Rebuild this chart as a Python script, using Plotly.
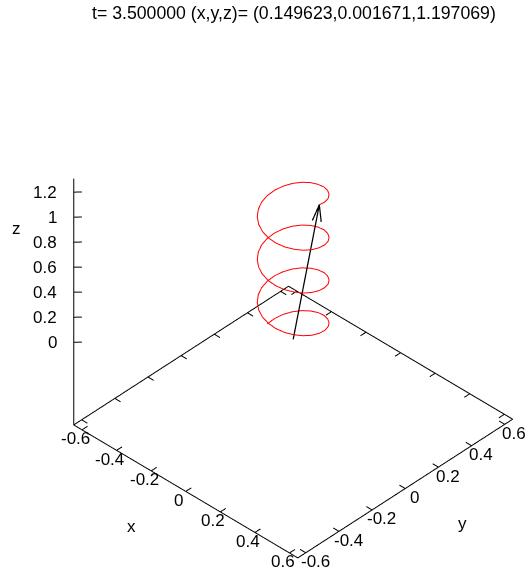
import plotly.graph_objects as go

# helix values, one point per 1/24 of a turn
helix_x = [
    -0.150, -0.145, -0.130, -0.106, -0.075, -0.039, 0.000, 0.039, 0.075, 0.106, 0.130, 0.145,
    0.150, 0.145, 0.130, 0.106, 0.075, 0.039, 0.000, -0.039, -0.075, -0.106, -0.130, -0.145,
    -0.150, -0.145, -0.130, -0.106, -0.075, -0.039, 0.000, 0.039, 0.075, 0.106, 0.130, 0.145,
    0.150, 0.145, 0.130, 0.106, 0.075, 0.039, 0.000, -0.039, -0.075, -0.106, -0.130, -0.145,
    -0.150, -0.145, -0.130, -0.106, -0.075, -0.039, 0.000, 0.039, 0.075, 0.106, 0.130, 0.145,
    0.150, 0.145, 0.130, 0.106, 0.075, 0.039, 0.000, -0.039, -0.075, -0.106, -0.130, -0.145,
    -0.150, -0.145, -0.130, -0.106, -0.075, -0.039, 0.000, 0.039, 0.075, 0.106, 0.130, 0.145,
    0.149623,
]
helix_y = [
    0.000, 0.039, 0.075, 0.106, 0.130, 0.145, 0.150, 0.145, 0.130, 0.106, 0.075, 0.039,
    0.000, -0.039, -0.075, -0.106, -0.130, -0.145, -0.150, -0.145, -0.130, -0.106, -0.075, -0.039,
    0.000, 0.039, 0.075, 0.106, 0.130, 0.145, 0.150, 0.145, 0.130, 0.106, 0.075, 0.039,
    0.000, -0.039, -0.075, -0.106, -0.130, -0.145, -0.150, -0.145, -0.130, -0.106, -0.075, -0.039,
    0.000, 0.039, 0.075, 0.106, 0.130, 0.145, 0.150, 0.145, 0.130, 0.106, 0.075, 0.039,
    0.000, -0.039, -0.075, -0.106, -0.130, -0.145, -0.150, -0.145, -0.130, -0.106, -0.075, -0.039,
    0.000, 0.039, 0.075, 0.106, 0.130, 0.145, 0.150, 0.145, 0.130, 0.106, 0.075, 0.039,
    0.001671,
]
helix_z = [
    0.000, 0.014, 0.029, 0.043, 0.057, 0.071, 0.086, 0.100, 0.114, 0.128, 0.143, 0.157,
    0.171, 0.185, 0.200, 0.214, 0.228, 0.242, 0.257, 0.271, 0.285, 0.299, 0.314, 0.328,
    0.342, 0.356, 0.370, 0.385, 0.399, 0.413, 0.427, 0.442, 0.456, 0.470, 0.484, 0.499,
    0.513, 0.527, 0.541, 0.556, 0.570, 0.584, 0.598, 0.613, 0.627, 0.641, 0.655, 0.670,
    0.684, 0.698, 0.712, 0.727, 0.741, 0.755, 0.769, 0.784, 0.798, 0.812, 0.826, 0.841,
    0.855, 0.869, 0.883, 0.898, 0.912, 0.926, 0.940, 0.955, 0.969, 0.983, 0.997, 1.012,
    1.026, 1.040, 1.054, 1.069, 1.083, 1.097, 1.111, 1.126, 1.140, 1.154, 1.168, 1.183,
    1.197069,
]

# arrow from the origin to the last helix point, with open head
arrow_x = [0, 0.149623, None, 0.129, 0.149623, 0.155]
arrow_y = [0, 0.001671, None, -0.019, 0.001671, 0.0075]
arrow_z = [0, 1.197069, None, 1.072, 1.197069, 1.059]

xy_ticks = [-0.6, -0.4, -0.2, 0, 0.2, 0.4, 0.6]
z_ticks = [0, 0.2, 0.4, 0.6, 0.8, 1, 1.2]
x_range = [-0.65, 0.65]
y_range = [-0.65, 0.65]
z_range = [-0.665, 1.313]

title = "t= 3.500000 (x,y,z)= (0.149623,0.001671,1.197069)"

tick_font = dict(family="Liberation Sans", size=17, color="black")
title_font = dict(family="Liberation Sans", size=17.7, color="black")
edge = 0.648
zb = -0.661
zt = 1.308
tick_len = 0.033
z_tick_len = 0.024

# base frame and z axis
frame_x = [-edge, edge, edge, -edge, -edge, -edge]
frame_y = [-edge, -edge, edge, edge, -edge, -edge]
frame_z = [zb, zb, zb, zb, zb, zt]

# inward ticks on all four base edges and on the z axis
tx, ty, tz = [], [], []
for v in xy_ticks:
    tx += [v, v, None, v, v, None, -edge, -edge + tick_len, None, edge, edge - tick_len, None]
    ty += [-edge, -edge + tick_len, None, edge, edge - tick_len, None, v, v, None, v, v, None]
    tz += [zb, zb, None, zb, zb, None, zb, zb, None, zb, zb, None]
for v in z_ticks:
    tx += [-edge, -edge + z_tick_len, None]
    ty += [-edge, -edge + z_tick_len, None]
    tz += [v, v, None]

fig = go.Figure()
fig.add_trace(go.Scatter3d(x=frame_x, y=frame_y, z=frame_z, mode="lines",
                           line=dict(color="black", width=2), hoverinfo="skip"))
fig.add_trace(go.Scatter3d(x=tx, y=ty, z=tz, mode="lines",
                           line=dict(color="black", width=2), hoverinfo="skip"))
fig.add_trace(go.Scatter3d(x=helix_x, y=helix_y, z=helix_z, mode="lines",
                           line=dict(color="red", width=2)))
fig.add_trace(go.Scatter3d(x=arrow_x, y=arrow_y, z=arrow_z, mode="lines",
                           line=dict(color="black", width=2.5)))

# tick labels and axis titles as scene annotations, the native ones get rotated
labels = []
for v in xy_ticks:
    labels.append(dict(x=v, y=-edge, z=zb, text=str(v), font=tick_font, showarrow=False,
                       xshift=-7, yshift=-9))
    labels.append(dict(x=edge, y=v, z=zb, text=str(v), font=tick_font, showarrow=False,
                       xshift=9.5, yshift=-9))
for v in z_ticks:
    labels.append(dict(x=-edge, y=-edge, z=v, text=str(v), font=tick_font, showarrow=False,
                       xanchor="right", xshift=-15))
labels.append(dict(x=0, y=-edge, z=zb, text="x", font=tick_font, showarrow=False, xshift=-54, yshift=-35))
labels.append(dict(x=edge, y=0, z=zb, text="y", font=tick_font, showarrow=False, xshift=57, yshift=-35))
labels.append(dict(x=-edge, y=-edge, z=0.9, text="z", font=tick_font, showarrow=False, xshift=-57, yshift=1))

axis = dict(showgrid=False, zeroline=False, showbackground=False, showline=False,
            showspikes=False, ticks="", showticklabels=False, title_text="")

fig.update_layout(
    width=528,
    height=569,
    margin=dict(l=0, r=0, t=0, b=0),
    showlegend=False,
    paper_bgcolor="white",
    scene=dict(
        domain=dict(x=[0, 1], y=[0, 1]),
        xaxis=dict(axis, range=x_range),
        yaxis=dict(axis, range=y_range),
        zaxis=dict(axis, range=z_range),
        aspectmode="manual",
        aspectratio=dict(x=1.0945, y=1.0945, z=1.1074),
        camera=dict(
            projection=dict(type="orthographic"),
            eye=dict(x=0.7624, y=-0.9435, z=1.0166),
            center=dict(x=-0.0956, y=-0.0485, z=0.0396),
        ),
        annotations=labels,
    ),
    annotations=[dict(text=title, x=0.556, y=1 - 13.5 / 569, xref="paper", yref="paper", xanchor="center",
                      yanchor="middle", showarrow=False, font=title_font)],
)

fig.write_html("out.html", config=dict(displayModeBar=False),
               post_script="document.body.style.margin='0';document.body.style.overflow='hidden';")
